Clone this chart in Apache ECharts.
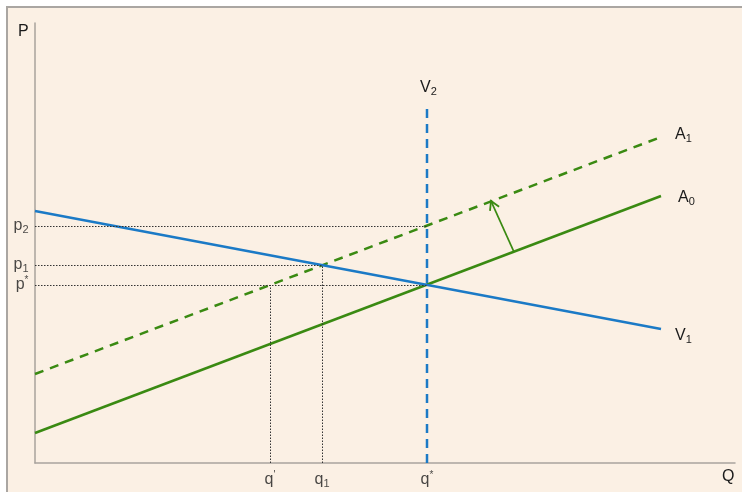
<!DOCTYPE html>
<html>
<head>
<meta charset="utf-8">
<script src="https://cdn.jsdelivr.net/npm/echarts@6/dist/echarts.min.js"></script>
<style>
  html, body { margin: 0; padding: 0; background: #ffffff; }
  #chart { width: 742px; height: 492px; }
</style>
</head>
<body>
<div id="chart"></div>
<script>
// data units: x = quantity, y = price
const demandV1 = [[0, 252], [626, 134]]
const supplyA0 = [[0, 30], [626, 267]]
const supplyA1 = [[0, 89], [626, 326]]
const verticalV2 = [[392, 0], [392, 356]]
const shiftArrow = [[479, 211, 456, 262]]

const priceNames = ['p2', 'p1', 'p*']
const priceValues = [237, 198, 178]
const priceReach = [392, 287, 392]   // how far right the dotted line goes

const qtyNames = ["q'", 'q1', 'q*']
const qtyValues = [235, 287, 392]
const qtyReach = [178, 198, 0]       // how far up the dotted line goes (0 = none)

const BLUE = '#1b7ac6'
const GREEN = '#3a8a12'
const TEXT = '#1a1a1a'
const FONT = 'Liberation Sans'

const rich = {
  b: { fontSize: 16, color: TEXT, lineHeight: 19, fontFamily: FONT },
  s: { fontSize: 11, color: TEXT, lineHeight: 12, verticalAlign: 'bottom', fontFamily: FONT },
  t: { fontSize: 10, color: TEXT, lineHeight: 10, verticalAlign: 'top', fontFamily: FONT }
}

function fmt(name) {
  const base = name.charAt(0)
  const rest = name.slice(1)
  if (!rest) return '{b|' + base + '}'
  if (/[0-9]/.test(rest)) return '{b|' + base + '}{s|' + rest + '}'
  return '{b|' + base + '}{t|' + rest + '}'
}

const guides = []
priceValues.forEach((v, i) => {
  guides.push([{ coord: [0, v] }, { coord: [priceReach[i], v] }])
})
qtyValues.forEach((v, i) => {
  if (qtyReach[i] > 0) guides.push([{ coord: [v, 0] }, { coord: [v, qtyReach[i]] }])
})

const chart = echarts.init(document.getElementById('chart'))

const labelBase = { color: TEXT, fontSize: 16, fontFamily: FONT, rich: rich }

const option = {
  animation: false,
  backgroundColor: '#ffffff',
  graphic: [
    {
      type: 'rect', z: -10, silent: true,
      shape: { x: 7, y: 7, width: 740, height: 490 },
      style: { fill: '#fbf0e4', stroke: '#aaa6a2', lineWidth: 2 }
    },
    {
      type: 'text', left: 18, top: 24,
      style: { text: 'P', fontSize: 16, fill: TEXT, fontFamily: FONT }
    },
    {
      type: 'text', left: 722, top: 469,
      style: { text: 'Q', fontSize: 16, fill: TEXT, fontFamily: FONT }
    }
  ],
  grid: { left: 35, top: 23, width: 700, height: 440 },
  xAxis: {
    type: 'value', min: 0, max: 700,
    axisLine: { show: true, lineStyle: { color: '#a9a39d', width: 1.5 } },
    axisTick: { show: false }, axisLabel: { show: false }, splitLine: { show: false }
  },
  yAxis: {
    type: 'value', min: 0, max: 440,
    axisLine: { show: true, lineStyle: { color: '#a9a39d', width: 1.5 } },
    axisTick: { show: false }, axisLabel: { show: false }, splitLine: { show: false }
  },
  series: [
    {
      // dotted guides
      type: 'line', data: [], symbol: 'none',
      markLine: {
        silent: true, symbol: ['none', 'none'], label: { show: false },
        lineStyle: { type: [1.5, 1.5], color: '#333', width: 1 },
        data: guides
      }
    },
    {
      type: 'line', name: 'A1', data: supplyA1, symbol: 'none',
      lineStyle: { color: GREEN, width: 2.5, type: [9, 7] },
      endLabel: Object.assign({ show: true, formatter: () => fmt('A1'), offset: [6, -2] }, labelBase)
    },
    {
      type: 'line', name: 'A0', data: supplyA0, symbol: 'none',
      lineStyle: { color: GREEN, width: 2.5 },
      endLabel: Object.assign({ show: true, formatter: () => fmt('A0'), offset: [9, 2] }, labelBase)
    },
    {
      type: 'line', name: 'V1', data: demandV1, symbol: 'none',
      lineStyle: { color: BLUE, width: 2.5 },
      endLabel: Object.assign({ show: true, formatter: () => fmt('V1'), offset: [6, 7] }, labelBase)
    },
    {
      type: 'line', name: 'V2', data: verticalV2, symbol: 'none',
      lineStyle: { color: BLUE, width: 2.5, type: [9, 6] },
      endLabel: Object.assign({ show: true, formatter: () => fmt('V2'), offset: [-15, -19] }, labelBase)
    },
    {
      type: 'custom',
      data: shiftArrow,
      encode: { x: [0, 2], y: [1, 3] },
      renderItem: function (params, api) {
        const a = api.coord([api.value(0), api.value(1)])
        const b = api.coord([api.value(2), api.value(3)])
        const ang = Math.atan2(b[1] - a[1], b[0] - a[0])
        const len = 10, spread = Math.PI / 6
        const h1 = [b[0] - len * Math.cos(ang - spread), b[1] - len * Math.sin(ang - spread)]
        const h2 = [b[0] - len * Math.cos(ang + spread), b[1] - len * Math.sin(ang + spread)]
        const st = { stroke: GREEN, lineWidth: 1.8, fill: null }
        return {
          type: 'group',
          children: [
            { type: 'line', shape: { x1: a[0], y1: a[1], x2: b[0], y2: b[1] }, style: st },
            { type: 'polyline', shape: { points: [h1, b, h2] }, style: st }
          ]
        }
      }
    },
    {
      // price labels on the vertical axis
      type: 'scatter', symbolSize: 1, itemStyle: { color: 'rgba(0,0,0,0)' },
      data: priceValues.map((v, i) => ({ value: [0, v], name: priceNames[i] })),
      label: Object.assign({ show: true, position: 'left', distance: 6, formatter: p => fmt(p.name) }, labelBase)
    },
    {
      // quantity labels on the horizontal axis
      type: 'scatter', symbolSize: 1, itemStyle: { color: 'rgba(0,0,0,0)' },
      data: qtyValues.map((v, i) => ({ value: [v, 0], name: qtyNames[i] })),
      label: Object.assign({ show: true, position: 'bottom', distance: 7, formatter: p => fmt(p.name) }, labelBase)
    }
  ]
}

chart.setOption(option)
window.addEventListener('resize', () => chart.resize())
</script>
</body>
</html>
